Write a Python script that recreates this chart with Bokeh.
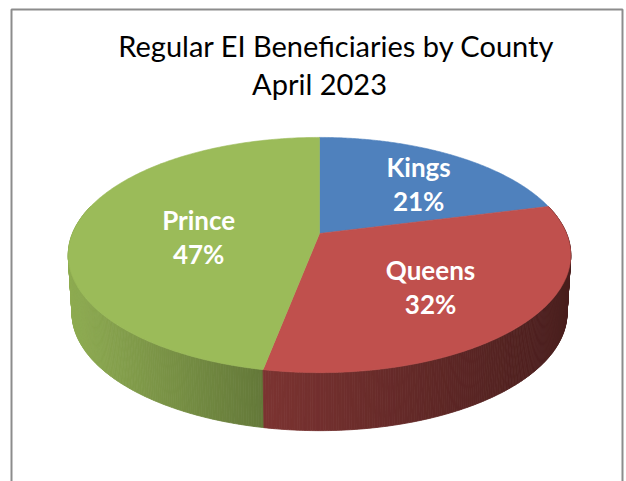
import numpy as np
from bokeh.plotting import figure
from bokeh.models import Range1d, ColumnDataSource
from bokeh.core.properties import value
from bokeh.embed import file_html
from bokeh.resources import INLINE

# ---------------- data ----------------
counties = ["Kings", "Queens", "Prince"]
shares = [21, 32, 47]
pct_labels = ["21%", "32%", "47%"]
title_lines = ["Regular EI Beneficiaries by County", "April 2023"]

# ---------------- style ----------------
top_colors = ["#4F81BD", "#C0504D", "#9BBB59"]
label_nudge = [(13, -7), (-10, -8), (30, 1)]

W, H = 626, 481
p = figure(width=W, height=H, output_backend="svg", toolbar_location=None,
           x_range=Range1d(0, W), y_range=Range1d(H, 0),
           x_axis_location=None, y_axis_location=None, min_border=0)
p.grid.visible = False
p.outline_line_color = None
p.background_fill_color = "white"

# perspective model of the pie's top face
cx, cy = 319.0, 233.0
F, D = 1198.0, 4.85
tilt = np.radians(27.4)
s, c = np.sin(tilt), np.cos(tilt)
thick = 58.0      # screen thickness of the disc
kx = 0.985        # slight narrowing of the bottom rim


def proj(phi, rho=1.0):
    x3 = rho * np.sin(phi)
    d = rho * np.cos(phi)
    yw = d * s
    z = D + d * c
    return cx + F * x3 / z, cy - F * yw / z, z


def hex2rgb(hx):
    hx = hx.lstrip("#")
    return np.array([int(hx[i:i + 2], 16) for i in (0, 2, 4)], dtype=float)


def shade(hx, f):
    r, g, b = np.clip(hex2rgb(hx) * f, 0, 255).astype(int)
    return "#%02x%02x%02x" % (r, g, b)


fr = np.array(shares, dtype=float) / sum(shares)
edges = np.concatenate([[0.0], np.cumsum(fr)]) * 2 * np.pi

# walls (side of the disc), drawn as thin quads, far to near
quads = []
for i in range(len(shares)):
    a0, a1 = edges[i], edges[i + 1]
    n = max(4, int(np.degrees(a1 - a0) / 0.5))
    ph = np.linspace(a0, a1, n + 1)
    tx, ty, tz = proj(ph, 1.0)
    bx = cx + kx * (tx - cx)
    by = ty + thick
    for k in range(n):
        if np.cos(0.5 * (ph[k] + ph[k + 1])) > 0.25:
            continue
        xs = [tx[k], tx[k + 1], bx[k + 1], bx[k]]
        ys = [ty[k], ty[k + 1], by[k + 1], by[k]]
        xm = (tx[k] + tx[k + 1]) / 2
        u = (xm - 68) / 502.0
        f = np.interp(u, [0.0, 0.39, 0.98, 1.0], [0.92, 0.645, 0.39, 0.385])
        col = shade(top_colors[i], f)
        quads.append(((tz[k] + tz[k + 1]) / 2, xs, ys, col))
quads.sort(key=lambda q: -q[0])
wall_src = ColumnDataSource(dict(xs=[q[1] for q in quads], ys=[q[2] for q in quads],
                                 col=[q[3] for q in quads]))
p.patches("xs", "ys", source=wall_src, fill_color="col", line_color="col", line_width=0.8)

# top faces
ax0, ay0, _ = proj(0.0, 0.0)
txs, tys = [], []
for i in range(len(shares)):
    ph = np.linspace(edges[i], edges[i + 1], 200)
    x, y, _ = proj(ph, 1.0)
    txs.append([ax0] + list(x))
    tys.append([ay0] + list(y))
p.patches(txs, tys, fill_color=top_colors, line_color=top_colors, line_width=0.6)

# data labels
mids = 0.5 * (edges[:-1] + edges[1:])
lx, ly, _ = proj(mids, 0.62)
lx = lx + np.array([n[0] for n in label_nudge])
ly = ly + np.array([n[1] for n in label_nudge])
lab_src = ColumnDataSource(dict(
    x=list(lx) + list(lx),
    y=list(ly - 8) + list(ly + 26),
    t=counties + pct_labels))
p.text("x", "y", text="t", source=lab_src, text_color="white",
       text_font=value("Lato"), text_font_style="bold", text_font_size="26px",
       text_align="center", text_baseline="alphabetic")

# title
tit_src = ColumnDataSource(dict(x=[336, 319], y=[45, 83], t=title_lines))
p.text("x", "y", text="t", source=tit_src, text_color="black",
       text_font=value("Lato"), text_font_size="29px",
       text_align="center", text_baseline="alphabetic")

# chart area border (open at the bottom)
p.line([11, 11, 622, 622], [H + 5, 9, 9, H + 5], line_color="#8c8c8c", line_width=2)

open("out.html", "w").write(file_html(p, INLINE))
